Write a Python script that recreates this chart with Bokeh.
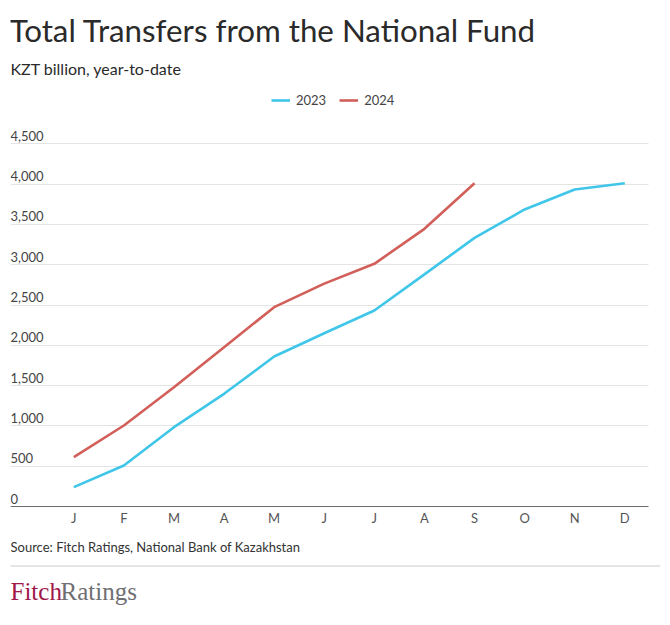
from bokeh.plotting import figure
from bokeh.models import (Range1d, FixedTicker, Label, Legend, LegendItem,
                          BoxAnnotation)
from bokeh.embed import file_html
from bokeh.resources import INLINE

months = ["J", "F", "M", "A", "M", "J", "J", "A", "S", "O", "N", "D"]
values_2023 = [240, 509, 984, 1398, 1861, 2150, 2432, 2880, 3333, 3685, 3933, 4011]
values_2024 = [612, 1005, 1480, 1977, 2473, 2765, 3011, 3445, 4011]
y_ticks = [0, 500, 1000, 1500, 2000, 2500, 3000, 3500, 4000, 4500]
y_tick_labels = ["0", "500", "1,000", "1,500", "2,000", "2,500", "3,000",
                 "3,500", "4,000", "4,500"]

title = "Total Transfers from the National Fund"
subtitle = "KZT billion, year-to-date"
source = "Source: Fitch Ratings, National Bank of Kazakhstan"

BLUE = "#3fc6e8"
RED = "#d35f5a"
FONT = "Lato"

W, H = 670, 625
FL, FR = 10, 660          # frame left/right in pixels
PLOT_R = 648              # right end of grid/axis in pixels
Y0_PX, Y4500_PX = 506.0, 143.3
X_J_PX, X_STEP = 73.3, 50.09

# pixel -> data helpers (layout only)
def dx(px):
    return (px - X_J_PX) / X_STEP

upp = 4500.0 / (Y0_PX - Y4500_PX)
y_bottom = -(H - Y0_PX) * upp
y_top = 4500 + Y4500_PX * upp

p = figure(width=W, height=H, output_backend="svg", toolbar_location=None,
           x_range=Range1d(dx(FL), dx(FR)), y_range=Range1d(y_bottom, y_top),
           min_border=0, min_border_left=FL, min_border_right=W - FR,
           outline_line_color=None)
p.background_fill_color = "white"
p.border_fill_color = "white"

r23 = p.line(list(range(len(values_2023))), values_2023, line_color=BLUE, line_width=2.6)
r24 = p.line(list(range(len(values_2024))), values_2024, line_color=RED, line_width=2.6)

# x axis drawn inside frame at y = 0
xa = p.xaxis[0]
xa.fixed_location = 0
xa.bounds = (dx(FL), dx(PLOT_R))
xa.ticker = FixedTicker(ticks=list(range(12)))
xa.major_label_overrides = {i: m for i, m in enumerate(months)}
xa.major_tick_line_color = None
xa.major_tick_out = 0
xa.major_tick_in = 0
xa.minor_tick_line_color = None
xa.axis_line_color = "#6e6e6e"
xa.axis_line_width = 1
xa.major_label_text_font = FONT
xa.major_label_text_font_size = "13px"
xa.major_label_text_color = "#555555"
xa.major_label_standoff = 3

p.yaxis.visible = False
p.xgrid.grid_line_color = None
yg = p.ygrid[0]
yg.ticker = FixedTicker(ticks=y_ticks[1:])
yg.grid_line_color = "#e4e4e4"
yg.grid_line_width = 1
if "cross_bounds" in yg.properties():
    yg.cross_bounds = (dx(FL), dx(PLOT_R))

# y tick labels above gridlines
p.text(x=[dx(FL)] * len(y_ticks), y=y_ticks, text=y_tick_labels,
       text_font={"value": FONT}, text_font_size="13px", text_color="#444444",
       text_align="left", text_baseline="middle", y_offset=-8)

# legend
legend = Legend(items=[LegendItem(label="2023", renderers=[r23]),
                       LegendItem(label="2024", renderers=[r24])],
                orientation="horizontal", location=(271 - FL, H - 110),
                padding=0, margin=0, spacing=13, glyph_width=19, glyph_height=20,
                label_height=20, label_standoff=6, border_line_color=None,
                background_fill_alpha=0, label_text_font=FONT,
                label_text_font_size="13px", label_text_color="#444444")
p.add_layout(legend, "center")

def lab(text, px, py, size, color="#222222", font=FONT, baseline="middle"):
    l = Label(x=px - FL, y=H - py, x_units="screen", y_units="screen", text=text,
              text_font=font, text_font_size=size, text_color=color,
              text_baseline=baseline, text_align="left")
    p.add_layout(l)

lab(title, 9, 29.5, "31.3px", "#2a2a2a")
lab(subtitle, 10, 67.5, "16px", "#2a2a2a")
lab(source, 10, 546.5, "13px", "#333333")
lab("Fitch", 10, 591, "25px", "#a0174a", font="Liberation Serif")
lab("Ratings", 60, 591, "25px", "#6f6f72", font="Liberation Serif")

sep = BoxAnnotation(left=0, right=FR - FL, bottom=H - 566, top=H - 565,
                    left_units="screen", right_units="screen",
                    bottom_units="screen", top_units="screen",
                    fill_color="#cccccc", fill_alpha=1, line_color=None,
                    line_alpha=0)
p.add_layout(sep)

open("out.html", "w").write(file_html(p, INLINE))
